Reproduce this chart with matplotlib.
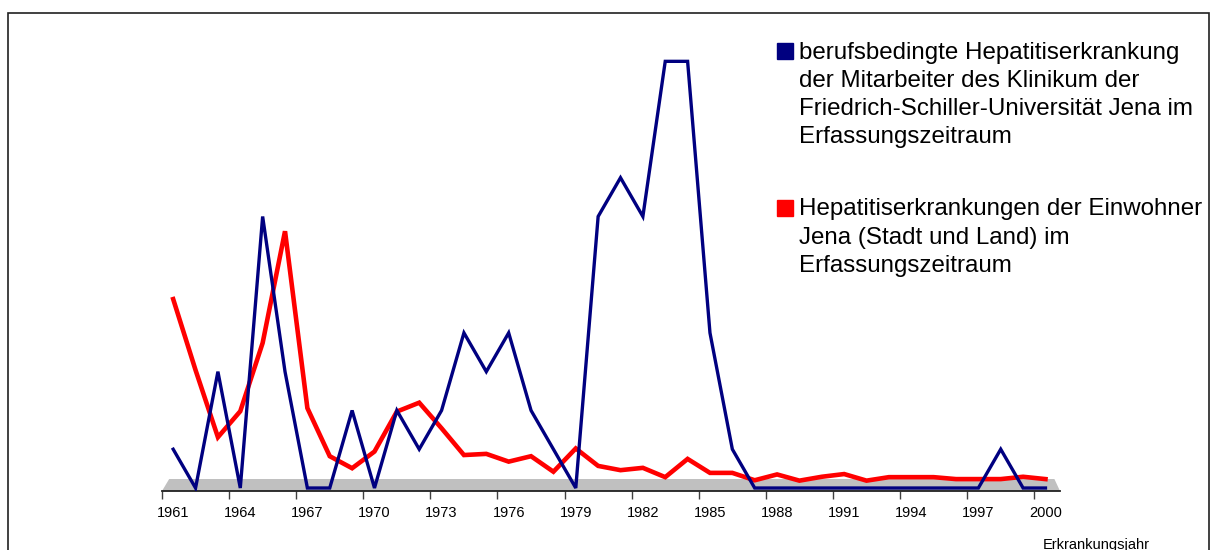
import matplotlib.pyplot as plt
from matplotlib.patches import Rectangle

# --- data ---
years = list(range(1961, 2001))
staff_cases = [1, 0, 3, 0, 7, 3, 0, 0, 2, 0,
               2, 1, 2, 4, 3, 4, 2, 1, 0, 7,
               8, 7, 11, 11, 4, 1, 0, 0, 0, 0,
               0, 0, 0, 0, 0, 0, 0, 1, 0, 0]
jena_cases = [4.87, 3.04, 1.31, 1.98, 3.74, 6.62, 2.06, 0.82, 0.51, 0.94,
              1.97, 2.20, 1.54, 0.85, 0.88, 0.68, 0.82, 0.42, 1.02, 0.57,
              0.46, 0.52, 0.28, 0.75, 0.39, 0.39, 0.20, 0.35, 0.19, 0.29,
              0.36, 0.19, 0.28, 0.28, 0.28, 0.23, 0.23, 0.23, 0.29, 0.23]
tick_years = years[::3]

label_staff = ['berufsbedingte Hepatitiserkrankung',
               'der Mitarbeiter des Klinikum der',
               'Friedrich-Schiller-Universität Jena im',
               'Erfassungszeitraum']
label_jena = ['Hepatitiserkrankungen der Einwohner',
              'Jena (Stadt und Land) im',
              'Erfassungszeitraum']

NAVY = '#000080'
RED = '#ff0000'
FLOOR = '#c0c0c0'

W, H = 1216, 550
plt.rcParams['font.family'] = ['Liberation Sans', 'DejaVu Sans']


def fx(x):
    return x / W


def fy(y):
    return 1 - y / H


fig = plt.figure(figsize=(W / 100, H / 100), dpi=100)

# outer frame (bottom edge runs off the picture)
fig.add_artist(Rectangle((fx(8), -0.1), fx(1209) - fx(8), fy(13) + 0.1,
                         transform=fig.transFigure, fill=False,
                         edgecolor='#202020', linewidth=1.2))

# plot area: left 162px, right 1060px, axis line at y=491px
ax = fig.add_axes([fx(162), fy(491), fx(1060) - fx(162), fy(40) - fy(491)])
ax.set_xlim(1960.5, 2000.65)
ax.set_ylim(-0.077, 11.55)

# grey floor of the 3D-style chart
ax.fill([1960.5, 2000.65, 2000.4, 1960.82], [-0.077, -0.077, 0.232, 0.232],
        color=FLOOR, zorder=1, linewidth=0)

ax.plot(years, jena_cases, color=RED, lw=3.3, zorder=3,
        solid_joinstyle='miter')
ax.plot(years, staff_cases, color=NAVY, lw=2.4, zorder=4,
        solid_joinstyle='miter')

for s in ['top', 'left', 'right']:
    ax.spines[s].set_visible(False)
ax.spines['bottom'].set_linewidth(1.3)
ax.spines['bottom'].set_color('#202020')
ax.set_yticks([])

# tick marks at category boundaries, labels at category centres
ax.set_xticks([y - 0.5 for y in tick_years], labels=[''] * len(tick_years))
ax.tick_params(axis='x', which='major', direction='out', length=6,
               width=1, color='#404040')
ax.set_xticks(tick_years, labels=[str(y) for y in tick_years], minor=True)
ax.tick_params(axis='x', which='minor', length=0, pad=10.5, labelsize=10.5)

# legend drawn by hand: square beside the first line of each label
def legend_entry(lines, color, top):
    fig.add_artist(Rectangle((fx(777), fy(top + 16)), 16 / W, 16 / H,
                             transform=fig.transFigure, color=color))
    for i, line in enumerate(lines):
        fig.text(fx(799), fy(top + 15.5 + i * 28.1), line,
                 fontsize=17.4, va='baseline', ha='left')


legend_entry(label_staff, NAVY, 43)
legend_entry(label_jena, RED, 200)

fig.text(fx(1043), fy(538), 'Erkrankungsjahr', fontsize=10.5,
         va='top', ha='left')

fig.savefig('out.png', dpi=100)
